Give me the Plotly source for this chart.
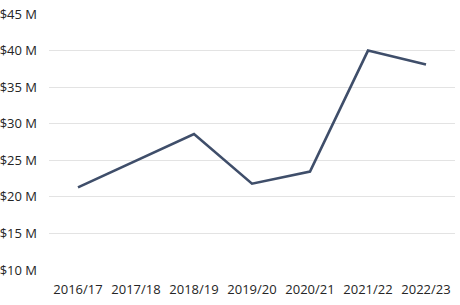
import plotly.graph_objects as go

years = ["2016/17", "2017/18", "2018/19", "2019/20", "2020/21", "2021/22", "2022/23"]
values = [21.3, 24.9, 28.6, 21.8, 23.45, 40.0, 38.1]
ytick_vals = [10, 15, 20, 25, 30, 35, 40, 45]
ytick_text = ["$10 M", "$15 M", "$20 M", "$25 M", "$30 M", "$35 M", "$40 M", "$45 M"]

fig = go.Figure()
fig.add_trace(go.Scatter(
    x=years, y=values, mode="lines",
    line=dict(color="#3f4e6a", width=2.6),
    hoverinfo="skip",
))
fig.update_layout(
    width=460, height=305,
    margin=dict(l=49, r=5, t=14, b=35),
    paper_bgcolor="white", plot_bgcolor="white",
    showlegend=False,
    font=dict(family="Open Sans", size=13, color="#252525"),
)
fig.update_xaxes(
    type="category", range=[-0.5, 6.5], showgrid=False, zeroline=False,
    showline=False, ticks="", ticklabelstandoff=10, automargin=False,
    tickfont=dict(size=13, color="#252525"),
)
fig.update_yaxes(
    range=[10, 45], tickvals=ytick_vals, ticktext=ytick_text,
    showgrid=True, gridcolor="#e3e3e3", gridwidth=1, zeroline=False,
    showline=False, ticks="", ticklabelstandoff=11, automargin=False,
    tickfont=dict(size=13, color="#252525"),
)
fig.write_html("out.html")
